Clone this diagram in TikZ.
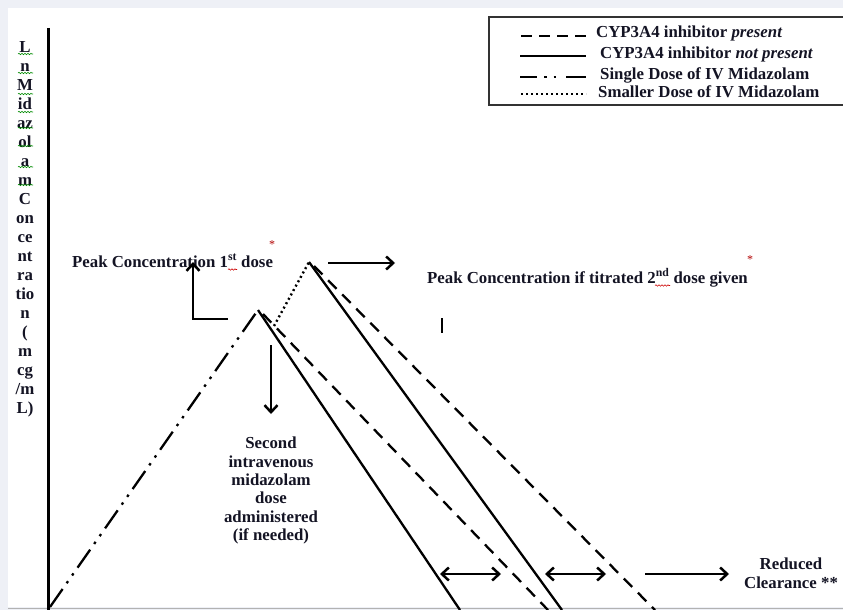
\documentclass[tikz,border=0pt]{standalone}
\usepackage{fontspec}
\setmainfont{Liberation Serif}
\usetikzlibrary{arrows.meta,decorations.pathmorphing}
\definecolor{bgpanel}{HTML}{EEF0F6}
\definecolor{txt}{HTML}{141424}
\begin{document}
\begin{tikzpicture}[x=1pt,y=-1pt,
  lbl/.style={font=\fontsize{16.8}{19}\selectfont\bfseries, text=txt, inner sep=0pt},
  ast/.style={font=\fontsize{12}{12}\selectfont, text=red!70!black, inner sep=0pt},
  curve/.style={line width=2.3pt, black},
  dashcurve/.style={curve, dash pattern=on 12pt off 8pt},
  dashdotcurve/.style={curve, dash pattern=on 22pt off 7pt on 2.5pt off 7pt on 2.5pt off 7pt},
  dotcurve/.style={line width=2.4pt, dash pattern=on 2pt off 3pt},
  arr/.style={line width=2.5pt, -{Straight Barb[length=7pt,width=13pt]}},
  darr/.style={line width=2.5pt, {Straight Barb[length=7pt,width=13pt]}-{Straight Barb[length=7pt,width=13pt]}},
  legline/.style={line width=2.8pt},
  squig/.style={decorate, decoration={snake, amplitude=0.7pt, segment length=3pt}, line width=0.6pt},
  redsq/.style={squig, red!80!black},
  greensq/.style={squig, green!55!black}
]
\useasboundingbox (0,0) rectangle (843,610);
\fill[bgpanel] (0,0) rectangle (843,610);
\fill[white] (8,8) rectangle (843,607);
\draw[gray!60, line width=1.2pt] (8,608.5) -- (843,608.5);

% axis
\coordinate (axtop) at (48.5,28);
\coordinate (axbot) at (48.5,610);
\draw[line width=2.5pt] (axtop) -- (axbot);

% y label
\node[lbl, align=center] (ylab) at (25,229.7) {L\\n\\M\\id\\az\\ol\\a\\m\\C\\on\\ce\\nt\\ra\\tio\\n\\(\\m\\cg\\/m\\L)};
\foreach \yy in {54,73,94,112,128,146,167,185} {
  \draw[greensq] (18,\yy) -- (33,\yy);
}

% legend
\coordinate (lgA) at (489,17);
\coordinate (lgB) at (846,105);
\draw[gray!40!black, line width=1.2pt] (lgA) rectangle (lgB);
\coordinate (l1a) at (521,36); \coordinate (l1b) at (586,36);
\coordinate (l2a) at (520,56); \coordinate (l2b) at (586,56);
\coordinate (l3a) at (520,77); \coordinate (l3b) at (586,77);
\coordinate (l4a) at (521,94); \coordinate (l4b) at (586,94);
\draw[legline, dash pattern=on 11pt off 7pt] (l1a) -- (l1b);
\draw[legline] (l2a) -- (l2b);
\draw[legline, dash pattern=on 17pt off 7pt on 2.5pt off 7pt on 2.5pt off 10pt on 30pt] (l3a) -- (l3b);
\draw[line width=2.2pt, dash pattern=on 1.6pt off 3.4pt] (l4a) -- (l4b);
\node[lbl, anchor=base west] (lt1) at (596,38) {CYP3A4 inhibitor \textit{present}};
\node[lbl, anchor=base west] (lt2) at (600,59) {CYP3A4 inhibitor \textit{not present}};
\node[lbl, anchor=base west] (lt3) at (600,79) {Single Dose of IV Midazolam};
\node[lbl, anchor=base west] (lt4) at (598,97) {Smaller Dose of IV Midazolam};

% curves
\coordinate (o) at (50,607);
\coordinate (p1) at (258,310);
\coordinate (p2) at (309,262);
\coordinate (s1) at (460,610);
\coordinate (s2) at (562,610);
\coordinate (d1s) at (263,314);
\coordinate (d1e) at (548,610);
\coordinate (d2s) at (314,266);
\coordinate (d2e) at (655,610);
\coordinate (dts) at (274,326);
\draw[dashdotcurve] (o) -- (p1);
\draw[curve] (p1) -- (s1);
\draw[curve] (p2) -- (s2);
\draw[dashcurve] (d1s) -- (d1e);
\draw[dashcurve] (d2s) -- (d2e);
\draw[dotcurve] (dts) -- (p2);

% labels
\node[lbl, anchor=base west] (pk1) at (72,267) {Peak Concentration 1\textsuperscript{st} dose};
\draw[redsq] (228,269.5) -- (237,269.5);
\node[ast] (as1) at (272,245) {*};
\node[lbl, anchor=base west] (pk2) at (427,283) {Peak Concentration if titrated 2\textsuperscript{nd} dose given};
\draw[redsq] (655,285.5) -- (670,285.5);
\node[ast] (as2) at (750,260) {*};
\node[lbl, align=center, font=\fontsize{16.8}{18.3}\selectfont\bfseries] (second) at (271,490.6) {Second\\intravenous\\midazolam\\dose\\administered\\(if needed)};
\node[lbl, align=center] (reduced) at (791,573) {Reduced\\Clearance **};

% arrows
\coordinate (la) at (228,319);
\coordinate (lb) at (193,319);
\coordinate (lc) at (193,262);
\draw[arr] (la) -- (lb) -- (lc);
\coordinate (ra) at (328,263);
\coordinate (rb) at (395,263);
\draw[arr] (ra) -- (rb);
\coordinate (da) at (271,345);
\coordinate (db) at (271,414);
\draw[arr] (da) -- (db);
\coordinate (ia) at (442,318);
\coordinate (ib) at (442,333);
\draw[line width=2pt] (ia) -- (ib);
\coordinate (b1a) at (440,574);
\coordinate (b1b) at (501,574);
\coordinate (b2a) at (545,574);
\coordinate (b2b) at (606,574);
\coordinate (b3a) at (645,574);
\coordinate (b3b) at (729,574);
\draw[darr] (b1a) -- (b1b);
\draw[darr] (b2a) -- (b2b);
\draw[arr] (b3a) -- (b3b);
\end{tikzpicture}
\end{document}
